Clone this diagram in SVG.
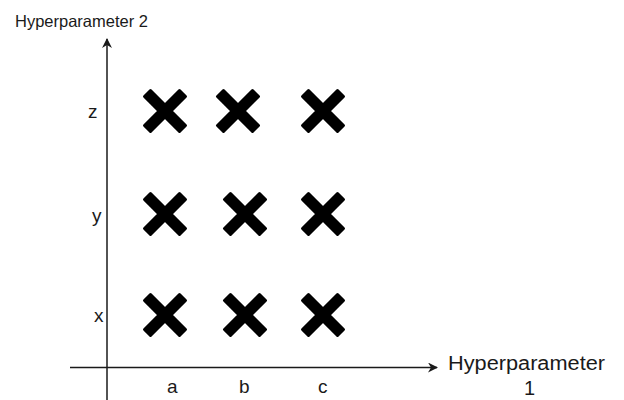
<svg xmlns="http://www.w3.org/2000/svg" width="624" height="400" viewBox="0 0 624 400">
<style>
text{font-family:"Liberation Sans",Arial,sans-serif;font-size:19px;fill:#1a1a1a}
.ax{stroke:#1a1a1a;stroke-width:1.5;fill:none}
.x{fill:#000;stroke:#000;stroke-width:3;stroke-linejoin:round}
</style>
<defs>
<marker id="ah" viewBox="0 0 10 10" refX="9" refY="5" markerWidth="10" markerHeight="10" markerUnits="userSpaceOnUse" orient="auto">
<path d="M0,0 L10,5 L0,10 L3,5 Z" fill="#1a1a1a"/>
</marker>
<path id="cross" class="x" d="M-20.5,-14.5 L-14.5,-20.5 L0,-6 L14.5,-20.5 L20.5,-14.5 L6,0 L20.5,14.5 L14.5,20.5 L0,6 L-14.5,20.5 L-20.5,14.5 L-6,0 Z"/>
</defs>
<g id="axes">
<line class="ax" x1="107" y1="400" x2="107" y2="39" marker-end="url(#ah)"/>
<line class="ax" x1="70" y1="367.5" x2="437" y2="367.5" marker-end="url(#ah)"/>
</g>
<g id="labels">
<text x="15" y="27" style="font-size:16.5px">Hyperparameter 2</text>
<text x="88" y="118">z</text>
<text x="92" y="222">y</text>
<text x="94" y="322">x</text>
<text x="167" y="393">a</text>
<text x="239" y="393">b</text>
<text x="318" y="393">c</text>
<text x="448" y="370" style="font-size:20px" textLength="157" lengthAdjust="spacingAndGlyphs">Hyperparameter</text>
<text x="524" y="395" style="font-size:20px">1</text>
</g>
<g id="points">
<use href="#cross" x="165" y="111"/>
<use href="#cross" x="238" y="111"/>
<use href="#cross" x="323" y="111"/>
<use href="#cross" x="165" y="214"/>
<use href="#cross" x="245" y="214"/>
<use href="#cross" x="323" y="214"/>
<use href="#cross" x="165" y="315"/>
<use href="#cross" x="245" y="315"/>
<use href="#cross" x="323" y="315"/>
</g>
</svg>
